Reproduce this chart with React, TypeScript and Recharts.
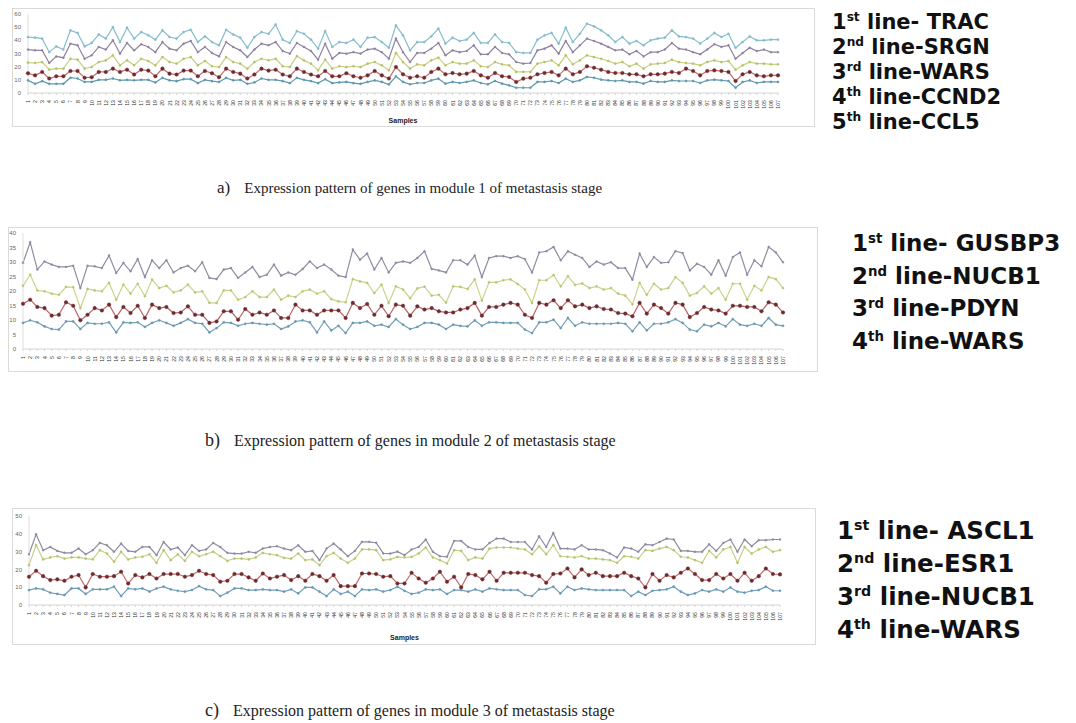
import React from 'react';
import { LineChart, Line, XAxis, YAxis } from 'recharts';

// ---------- categories ----------
const samples: string[] = Array.from({ length: 107 }, (_, i) => String(i + 1));

// ---------- panel a (module 1) ----------
const TRAC_A = [42.5,42,41.3,31,35.4,33,47.6,45.6,35.4,38,44.5,41.3,50,38.7,49.6,41.3,46.3,43.8,40.5,47.6,42.5,41.3,46.3,48,38.7,43,38.7,36.2,48,44.5,42,34.4,42.5,46.3,45,52,40.5,38,47,45,40.5,33.7,47,35,38.7,38,40.5,35,42,42.5,38.7,34.4,51.4,43.8,32.4,38.7,38.7,43,48.9,37.5,42,39.5,40.5,45.6,38,38,44.5,38.7,38,31,30.4,30.4,40.5,43.8,45.6,37.5,49.6,38.7,45,52.6,50.6,47.6,43.8,38.7,42.5,37.5,39.5,36.2,40,41.3,42,47.6,43,42.5,41.3,37.5,41.3,45.6,42.5,45,34.4,38.7,43,40,40,40.5,40.5];
const SRGN_A = [33,32.4,32.4,22.8,27.8,26.8,37.5,36.2,26,28.6,35,33,40,29.9,38,32.4,37,35,31,38.7,33.7,32.4,37.5,39.5,31,35,30.4,27.8,38.7,35,32.4,27.3,33,37.5,36.2,38.7,31.9,29.9,38,35,31.9,25.3,37.5,26,30.4,29.9,31,29.9,33,33.7,31,26,41.3,31,23.5,30.4,30.4,33.7,38,28.6,32.4,31,31.9,36.2,29.4,29.4,35,30.4,29.4,23.5,22.3,22.8,32.4,33.7,36.2,29.9,39.5,31,36.2,41.3,39.5,37.5,35,32.4,33,29.4,31.9,27.8,31,31,33,38,33.7,33,31,29.4,33,37,35,36.2,26,30.4,34.4,31.9,33,31,31];
const WARS_A = [23,22.8,23.5,17.7,18.5,18.5,26,25.3,18.5,19.7,23.5,24.8,28.6,21,24.8,21,26,24.3,21,27.3,23.5,22.3,26,27.3,21,24.3,20.3,19.7,27.3,23.5,22.3,18.5,23.5,26,24.8,26,20.3,19.7,28,24.8,22.3,17.2,25.3,18.5,20.3,19.7,20.3,19.7,22.3,23.5,21,17.2,30.4,23.5,18.5,21.8,21,24.8,26.8,21,23.5,22.3,22.3,24.8,20.3,19.7,23.5,21.8,21,16,16,16,22.3,23.5,24.8,21,28.6,21.8,24.8,28.6,27.3,26,24.3,22.3,23.5,20.3,22.3,18.5,21.8,22.3,22.8,25.3,23.5,22.8,22.3,21,23.5,24.8,23.5,24.3,17.7,21,23.5,22.3,22.3,21.8,21.8];
const CCND2_A = [15,13.4,16,11,12.7,12.7,16.7,16.7,11.6,12,16,16,18.5,16,17.7,14,17.7,17,12.7,18.5,14.7,14,17,17,12.7,16.7,15,12,18.5,16,14.7,11,14,18.5,17,17.7,14,12.7,18.5,16,14,12.7,16.7,12.7,12.7,15,12.7,11.6,13.4,16.7,13.4,11,19.7,14.2,11.6,12.7,11.6,16,18.5,14.2,15.2,14.2,14.7,16.7,13.4,11.6,15.2,12.7,12.2,8.4,10.9,11.6,14.2,15.2,16,13.4,18.5,14.2,16,20.3,19.2,17.7,16,15.2,15.2,14.2,14.2,12.7,14.2,14.2,14.7,16,15.2,18.5,16.7,13.4,16.7,17.2,16.7,16,9.1,14.2,16,13.4,12.7,13.4,13.4];
const CCL5_A = [9.6,7,9,7,7,7,11.6,11,8.4,8.4,10,10,11,9.6,10,9.6,10,10,8,11.5,9.6,9,10.5,10.5,7.5,10,9,8.4,11.5,9.6,10,7,8,11,10,10,9,7.5,11.5,10,9,7.5,10.5,7.5,8,8.4,7.5,7,8.4,9.6,8.4,6.5,12.7,8.4,6.6,7.6,7.6,9.6,10.9,7.1,8.4,7.6,8.4,9.6,7.6,6.6,9.1,7.1,5.8,4,4,4,8.4,8.4,9.1,7.6,10.9,8.4,9.6,12.2,11.6,10.1,9.6,9.1,9.6,8.4,8.4,7.1,9.1,8.4,8.4,9.6,9.1,9.1,9.1,7.6,9.6,10.1,9.6,9.1,4,8.4,9.6,7.6,8.4,8.4,8.4];
const ticksA = [0, 10, 20, 30, 40, 50, 60];

// ---------- panel b (module 2) ----------
const GUSBP3_B = [29.7,36.8,27.4,30.2,29.1,28.3,28.3,28.7,21,28.7,28.5,27.9,32.2,26.2,29.7,26.8,31,24.8,30.6,27.9,30.6,26.4,27.9,28.7,26.8,29.9,24.5,24.1,27.4,27.9,24.5,26.4,28.3,24.8,25.6,29.1,25.3,26.4,25.6,27.6,30.2,27.9,29.1,27.4,25.3,24.8,34.3,30.8,32.9,27.4,31.4,26.4,29.7,30.2,29.7,31.4,33.7,27.6,27.1,26.4,30.6,30.6,29.1,32.2,24.8,31.4,32,32,31.4,32,31,26.4,33.3,33.7,35.2,30.6,33.7,32.5,31.4,28.3,30.2,29.1,29.9,27.9,27.9,23.9,32.9,28.3,31.7,29.7,29.9,33.7,33.1,27.1,29.4,28.3,25.6,30.6,25.3,31.7,33.3,25.6,30.6,28.5,35.2,33.3,29.9];
const NUCB1_B = [21.8,25.6,20.2,19.9,19.1,18.7,21.4,21.3,14.1,20.7,20.2,19.9,22.8,17,22.2,19.1,22.5,18.2,23.9,21,21.8,19.5,20.2,22.2,19.5,19.9,15.9,15.9,20.2,20.2,17,17.9,19.9,17.9,17.9,20.5,17,18.4,17.9,19.9,20.5,19.1,19.9,17.2,16.4,16.1,24.1,23.3,22.8,19.3,22.2,15.9,21.6,20.5,17.5,20.9,21.5,18.4,18.7,16,21.6,21.4,20.7,24,16.7,23,23,23.7,24,22.4,20.5,15.9,23.7,23.7,25.5,21.6,25.1,22.1,22.6,21,21.6,20.5,21,19.1,18.4,15.4,22.8,18.7,22.5,20.5,21,24.8,22.8,18.4,19.3,21.6,19.1,21,17,22.5,22.5,17,21.8,20.2,24.8,24.1,21];
const PDYN_B = [15.6,17,14.5,14.1,11.5,11.8,16.1,14.9,9.9,11.8,14.1,13.3,15.3,11,14.5,12.4,14.9,10.7,15.3,14.1,14.5,12.4,12.6,14.7,11.8,11.8,9,9.5,13,13,10.1,13.8,11.8,12.6,11.8,13.3,10.7,10.7,15.3,13.3,13.3,11.8,13.3,13.3,13.3,10.7,15.9,14.1,15.5,11.8,14.9,11.3,15.3,14.9,11.5,14.7,13.6,14.1,13,12.6,12.6,13.6,14.1,15.9,11.5,14.5,14.5,15.3,15.9,15.3,11.8,10.7,15.9,15.3,16.8,14.1,16.8,14.7,15.3,14.1,14.7,13.8,13.6,12.4,12.2,11.3,15.9,12.2,15.3,14.1,12.2,15.9,15.3,11,12.4,14.5,13.6,13.3,12.2,14.9,14.9,14.5,14.5,13,16.1,15.3,12.6];
const WARS_B = [9,9.9,9.2,7.8,6.9,6.7,9.5,9.5,6.9,9,8.7,8.7,9.2,5.7,9.2,9,9.2,7.6,9,9.9,9,8,9,10.3,9,8.7,5.7,7.2,9.2,9,8,8.7,9,8.7,8.4,8.7,6.9,7.8,9.5,9.9,9.2,5.7,9.5,6.4,8,5.5,9,9,9.5,8,8.4,7.6,10.3,8.4,6.9,7.6,9,9,8.4,6.9,8.4,8,7.8,9.9,8,9.2,9.2,9,9,9,6.7,5.5,9.2,9.2,10.1,7.2,10.7,8,9.2,8.7,8.7,8.7,8.7,9,8.7,6.1,9.2,6.4,8.7,8.7,9.2,10.3,9,6.7,6.1,8.4,7.8,9,7.8,10.3,8.4,8,8.7,8,10.7,8.4,8];
const ticksB = [0, 5, 10, 15, 20, 25, 30, 35, 40];

// ---------- panel c (module 3) ----------
const ASCL1_C = [28.5,39.7,30.8,32.6,30.4,29.3,29.3,31.7,28.5,30.8,34.9,33.6,29.9,34.5,30.4,29.9,32.6,32.6,28,35.4,31.2,32.3,28,33.6,30.4,31.2,34.9,32.6,29.3,28.9,28.9,29.9,29.3,31.7,32.6,33,31.7,30.8,33.6,29.9,30.4,25.2,31.7,34.5,31.2,27.4,30.4,35.5,35.5,35,29,28.9,30,28,31.2,32.6,36.8,29.9,27.4,27.1,36,36,32.6,31.2,31.2,34.9,37.3,37.3,35.4,35.4,35.4,31.2,38.6,32.6,40.5,31.7,31.7,31.2,33.6,31.2,31.2,30.8,28.9,26.7,32.3,31.7,29.9,34.1,33.6,35.4,37.3,36.8,30.4,30.4,29.9,29.9,34.1,30.4,34.9,36.8,29.9,36.8,33,36.4,36.4,36.8,36.8];
const ESR1_C = [22.4,33.6,25.6,26.7,27.4,26.1,26.7,26.7,26.1,25.6,30.8,28.9,24.3,29.9,25.6,26.7,27.1,28.5,23.7,30.8,25.2,28.5,24.8,29.9,27.4,28.5,29.9,27.4,24.8,26.1,26.1,25.6,26.7,29.3,28.5,28,26.5,26,28.9,25.2,25.6,22.4,27.4,29.3,26.1,23.7,26.1,31.2,31.2,30.8,25.2,25.6,27,26.7,27,28.9,32.3,26.7,25.2,23.3,30.8,30.4,25.2,26.7,26.1,31.7,32.3,32.3,32.3,31.7,31.2,28.5,33,28.5,33.6,27.4,27.1,26.7,27.4,26.1,26.1,25.6,25.2,23.7,27.4,27.1,26.1,30.8,30.4,31.7,32.6,30.8,27.1,26.7,25.2,23.7,30.4,26.7,31.2,32.6,23.7,32.6,28.9,31.2,32.6,29.9,30.8];
const NUCB1_C = [15.9,19.2,16.2,14,14.4,13.6,15.9,16.8,9.9,17.4,15.9,15.9,16.2,18.7,12.1,16.8,15.5,17.4,14.9,17.4,17.4,17.4,15.9,16.8,19.2,17.4,16.8,13.1,13.6,17.4,17.4,15.5,13.6,17.7,14.9,15.9,16.8,14,16.2,13.6,17.4,16.2,13.6,16.8,10.6,10.6,10.6,17.7,17.7,17.4,15.9,16.2,12.1,12.1,18.1,14.9,12.5,14.9,18.7,13.1,15.9,9.9,17.4,16.8,14.4,18.7,13.6,18.1,18.1,18.1,18.1,16.8,16.2,12.5,17.4,17.7,20.5,15.5,20,16.8,18.1,16.2,16.2,16.2,18.1,16.2,14.9,9.9,17.4,13.6,16.8,15.5,18.1,20.5,17.4,14,14,17.4,14.9,17.4,13.6,18.1,13.6,16.2,20.5,17.4,17.2];
const WARS_C = [8.4,9.3,8.8,6.9,6.2,5.6,9.3,9.3,6.2,8.8,8.8,8.8,10.3,5,9.3,8.8,9.3,7.5,9.3,10.3,8.8,8,7.5,8.4,10.6,8.8,8.4,5,6.9,9.3,9.3,8.4,8.4,8.8,8.4,8.4,7.5,8.8,6.5,9.9,9.9,7.5,5,8.8,6.2,7.5,5,8.8,8.4,8.8,7.5,8.4,10.3,8,6.2,6.9,8.8,8.4,8.8,6.2,8.4,8.4,7.5,8.8,7.5,9.3,8.8,8.4,8.4,8.4,5.6,5,8.8,8.8,10.3,6.5,10.3,8.4,9.3,8.8,8.4,8.4,8.4,8.4,8.4,5,7.5,5.6,8,8.4,8.8,10.3,7.5,5.6,6.5,8.4,7.5,8.8,7.5,9.9,7.5,6.9,8,8.4,10.3,8,8];
const ticksC = [0, 10, 20, 30, 40, 50];

// ---------- legend / caption texts ----------
const legendA = [['1', 'st', ' line- TRAC'], ['2', 'nd', ' line-SRGN'], ['3', 'rd', ' line-WARS'], ['4', 'th', ' line-CCND2'], ['5', 'th', ' line-CCL5']];
const legendB = [['1', 'st', ' line- GUSBP3'], ['2', 'nd', ' line-NUCB1'], ['3', 'rd', ' line-PDYN'], ['4', 'th', ' line-WARS']];
const legendC = [['1', 'st', ' line- ASCL1'], ['2', 'nd', ' line-ESR1'], ['3', 'rd', ' line-NUCB1'], ['4', 'th', ' line-WARS']];
const captionA = ['a)', 'Expression pattern of genes in module 1 of metastasis stage'];
const captionB = ['b)', 'Expression pattern of genes in module 2 of metastasis stage'];
const captionC = ['c)', 'Expression pattern of genes in module 3 of metastasis stage'];

type Series = { key: string; values: number[]; color: string; dot: string; r: number };

const buildData = (series: Series[]) =>
  samples.map((s, i) => {
    const row: Record<string, number | string> = { s };
    series.forEach((se) => { row[se.key] = se.values[i]; });
    return row;
  });

const seriesA: Series[] = [
  { key: 'TRAC', values: TRAC_A, color: '#86bccd', dot: '#86bccd', r: 1.1 },
  { key: 'SRGN', values: SRGN_A, color: '#8f819f', dot: '#8f819f', r: 1.0 },
  { key: 'WARS', values: WARS_A, color: '#c9cf7e', dot: '#b7bf68', r: 1.1 },
  { key: 'CCND2', values: CCND2_A, color: '#c56a6a', dot: '#6e2a2e', r: 1.8 },
  { key: 'CCL5', values: CCL5_A, color: '#5f98ad', dot: '#5f98ad', r: 1.1 },
];
const seriesB: Series[] = [
  { key: 'GUSBP3', values: GUSBP3_B, color: '#8e8ca2', dot: '#8e8ca2', r: 1.0 },
  { key: 'NUCB1', values: NUCB1_B, color: '#cbd28c', dot: '#bcc470', r: 1.1 },
  { key: 'PDYN', values: PDYN_B, color: '#bb6464', dot: '#6a2c30', r: 1.8 },
  { key: 'WARS', values: WARS_B, color: '#72a0b8', dot: '#6a98b0', r: 1.1 },
];
const seriesC: Series[] = [
  { key: 'ASCL1', values: ASCL1_C, color: '#8c8ba2', dot: '#8c8ba2', r: 1.0 },
  { key: 'ESR1', values: ESR1_C, color: '#c8cf86', dot: '#b9c16c', r: 1.1 },
  { key: 'NUCB1', values: NUCB1_C, color: '#c26a6a', dot: '#6c2a2e', r: 1.8 },
  { key: 'WARS', values: WARS_C, color: '#6f9dba', dot: '#6898b4', r: 1.1 },
];

const SampleTick = (props: any) => {
  const { x, y, payload } = props;
  return (
    <text x={x} y={y + 3} transform={`rotate(-90 ${x} ${y + 3})`} textAnchor="end" dominantBaseline="central"
      fontSize={5.2} fill="#333" fontFamily="Liberation Sans, Arial, sans-serif">
      {payload.value}
    </text>
  );
};

type PanelProps = {
  left: number; top: number; w: number; h: number;
  series: Series[]; ticks: number[];
  margin: { top: number; right: number; left: number; bottom: number };
  yWidth: number; xHeight: number; showSamples: boolean; labelOffset: number;
};

const Panel = ({ left, top, w, h, series, ticks, margin, yWidth, xHeight, showSamples, labelOffset }: PanelProps) => {
  const data = buildData(series);
  return (
    <div style={{ position: 'absolute', left, top, width: w, height: h, border: '1px solid #dadada', boxSizing: 'border-box', background: '#fff' }}>
      <LineChart width={w - 2} height={h - 2} data={data} margin={margin}>
        <XAxis dataKey="s" scale="point" padding={{ left: 0, right: 0 }} interval={0} tick={<SampleTick />}
          height={xHeight} axisLine={{ stroke: '#d4d4d4' }} tickLine={{ stroke: '#d4d4d4' }} tickSize={2}
          label={showSamples ? { value: 'Samples', position: 'insideBottom', offset: labelOffset, fontSize: 7, fontWeight: 700, fill: '#222', fontFamily: 'Liberation Sans, Arial, sans-serif' } : undefined} />
        <YAxis domain={[ticks[0], ticks[ticks.length - 1]]} ticks={ticks} width={yWidth} interval={0}
          axisLine={{ stroke: '#dedede' }} tickLine={false} tickSize={0} tickMargin={7}
          tick={{ fontSize: 6, fill: '#666', fontFamily: 'Liberation Sans, Arial, sans-serif' }} />
        {series.map((se) => (
          <Line key={se.key} dataKey={se.key} type="linear" stroke={se.color} strokeWidth={1.2}
            dot={{ r: se.r, fill: se.dot, stroke: se.dot, strokeWidth: 0.4 }} activeDot={false} isAnimationActive={false} />
        ))}
      </LineChart>
    </div>
  );
};

const Legend = ({ items, left, top, fontSize, lineHeight }: { items: string[][]; left: number; top: number; fontSize: number; lineHeight: number }) => (
  <div style={{ position: 'absolute', left, top, fontFamily: '"DejaVu Sans", Verdana, sans-serif', fontWeight: 700, fontSize, lineHeight: `${lineHeight}px`, color: '#111', whiteSpace: 'nowrap' }}>
    {items.map((it, i) => (
      <div key={i}>
        {it[0]}<sup style={{ fontSize: '0.58em', verticalAlign: '0.62em', lineHeight: 0 }}>{it[1]}</sup>{it[2]}
      </div>
    ))}
  </div>
);

const Caption = ({ parts, left, top, size }: { parts: string[]; left: number; top: number; size: number }) => (
  <div style={{ position: 'absolute', left, top, fontFamily: '"Liberation Serif", "Times New Roman", serif', fontSize: size, color: '#222', whiteSpace: 'nowrap', lineHeight: `${size + 4}px` }}>
    <span style={{ fontSize: size + 2 }}>{parts[0]}</span>
    <span style={{ marginLeft: 14 }}>{parts[1]}</span>
  </div>
);

export default function App() {
  return (
    <div style={{ position: 'absolute', left: 0, top: 0, width: 1076, height: 723, background: '#fff', overflow: 'hidden' }}>
      <Panel left={12} top={8} w={803} h={119} series={seriesA} ticks={ticksA}
        margin={{ top: 5, right: 36, left: 0, bottom: 0 }} yWidth={15} xHeight={33} showSamples labelOffset={3} />
      <Legend items={legendA} left={832} top={10} fontSize={21} lineHeight={25} />
      <Caption parts={captionA} left={217} top={178} size={15} />

      <Panel left={8} top={227} w={810} h={145} series={seriesB} ticks={ticksB}
        margin={{ top: 5, right: 34, left: 0, bottom: 0 }} yWidth={14} xHeight={22} showSamples={false} labelOffset={0} />
      <Legend items={legendB} left={852} top={227} fontSize={23} lineHeight={32.7} />
      <Caption parts={captionB} left={205} top={430} size={16} />

      <Panel left={12} top={508} w={804} h={137} series={seriesC} ticks={ticksC}
        margin={{ top: 7, right: 35, left: 0, bottom: 0 }} yWidth={16} xHeight={39} showSamples labelOffset={4} />
      <Legend items={legendC} left={837} top={514} fontSize={24.5} lineHeight={33} />
      <Caption parts={captionC} left={205} top={700} size={16} />
    </div>
  );
}
